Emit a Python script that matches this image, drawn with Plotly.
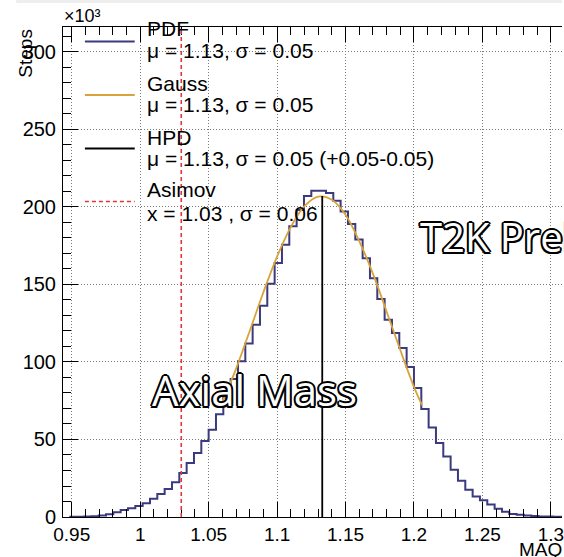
import plotly.graph_objects as go

# ---------------- data ----------------
BIN_WIDTH = 1.5 / 280          # histogram bin width (MAQ)
FIRST_BIN = 177                # index of first drawn bin
# steps per bin, in units of 10^3
COUNTS = [0.1, 0.2, 0.3, 0.5, 0.9, 1.7, 3.0, 4.5, 5.6, 7.1,
          8.8, 11.8, 14.8, 18.0, 22.4, 28.4, 34.8, 41.3, 49.0, 56.3,
          66.3, 77.0, 89.0, 100.4, 112.0, 124.0, 136.3, 150.5, 163.9, 175.7,
          187.5, 198.0, 207.0, 210.5, 210.5, 209.0, 204.0, 197.0, 189.0, 179.0,
          167.0, 154.0, 140.6, 127.3, 118.7, 109.0, 96.8, 83.2, 69.7, 57.8,
          47.7, 39.1, 30.5, 23.4, 17.6, 13.3, 10.8, 8.0, 5.3, 3.4,
          2.0, 1.4, 0.9, 0.6, 0.4, 0.3, 0.2, 0.1]

GAUSS_X = [1.059, 1.07, 1.08, 1.09, 1.10, 1.11, 1.12, 1.13, 1.14, 1.15,
           1.16, 1.17, 1.18, 1.19, 1.20, 1.206]
GAUSS_Y = [72.0, 95.6, 120.0, 145.0, 168.0, 187.0, 200.5, 206.7, 204.7, 195.0,
           178.0, 157.0, 132.6, 107.7, 84.0, 72.0]

HPD_X = 1.133
HPD_TOP = 207.0
ASIMOV_X = 1.03

X_TICKS = [0.95, 1.0, 1.05, 1.1, 1.15, 1.2, 1.25, 1.3]
Y_TICKS = [0, 50, 100, 150, 200, 250, 300]

LEGEND_NAMES = ["PDF", "Gauss", "HPD", "Asimov"]
LEGEND_STATS = ["μ = 1.13, σ = 0.05",
                "μ = 1.13, σ = 0.05",
                "μ = 1.13, σ = 0.05 (+0.05-0.05)",
                "x = 1.03 , σ = 0.06"]

# ---------------- layout geometry ----------------
W, H = 564, 557
ML, MR, MT, MB = 63, 0, 27, 40
X_RANGE = [0.9436, 1.30815]
Y_RANGE = [0, 316.1]

FONT = "Liberation Sans, Arial, Helvetica, sans-serif"
NAVY = "#3b3a7e"
GOLD = "#d9a33b"
RED = "#e0353a"
GRID = "#7a7a7a"

def px(x):   # pixel -> paper x
    return (x - ML) / (W - ML - MR)

def py(y):   # pixel -> paper y
    return (H - MB - y) / (H - MT - MB)

edges = [(FIRST_BIN + i) * BIN_WIDTH for i in range(len(COUNTS) + 1)]
steps_y = COUNTS + [COUNTS[-1]]

fig = go.Figure()
fig.add_trace(go.Scatter(x=edges, y=steps_y, mode="lines",
                         line=dict(color=NAVY, width=2, shape="hv"),
                         hoverinfo="skip", showlegend=False))
fig.add_trace(go.Scatter(x=GAUSS_X, y=GAUSS_Y, mode="lines",
                         line=dict(color=GOLD, width=1.8, shape="spline"),
                         hoverinfo="skip", showlegend=False))
fig.add_trace(go.Scatter(x=[HPD_X, HPD_X], y=[0, HPD_TOP], mode="lines",
                         line=dict(color="black", width=1.8),
                         hoverinfo="skip", showlegend=False))
fig.add_shape(type="line", xref="x", yref="paper", x0=ASIMOV_X, x1=ASIMOV_X,
              y0=0, y1=1, line=dict(color=RED, width=1.6, dash="4px,3px"))

# ---- legend (drawn manually, ROOT style) ----
leg_line_y = [41.5, 95, 148.5, 201.5]
leg_name_y = [28.5, 83, 137, 189.5]
leg_stat_y = [50.5, 104.5, 158, 213]
leg_styles = [dict(color=NAVY, width=2), dict(color=GOLD, width=2),
              dict(color="black", width=2), dict(color=RED, width=1.6, dash="4px,3px")]
for i in range(4):
    fig.add_shape(type="line", xref="paper", yref="paper",
                  x0=px(85), x1=px(135), y0=py(leg_line_y[i]), y1=py(leg_line_y[i]),
                  line=leg_styles[i])
    fig.add_annotation(xref="paper", yref="paper", x=px(145), y=py(leg_name_y[i]),
                       xanchor="left", yanchor="middle", text=LEGEND_NAMES[i],
                       showarrow=False, font=dict(family=FONT, size=21, color="black"))
    fig.add_annotation(xref="paper", yref="paper", x=px(145), y=py(leg_stat_y[i]),
                       xanchor="left", yanchor="middle", text=LEGEND_STATS[i],
                       showarrow=False, font=dict(family=FONT, size=21, color="black"))

# ---- outlined labels ----
outline = ("2px 0 0 #000, -2px 0 0 #000, 0 2px 0 #000, 0 -2px 0 #000, "
           "1.5px 1.5px 0 #000, -1.5px -1.5px 0 #000, 1.5px -1.5px 0 #000, -1.5px 1.5px 0 #000")
fig.add_annotation(xref="paper", yref="paper", x=px(150), y=py(389),
                   xanchor="left", yanchor="middle", text="Axial Mass", showarrow=False,
                   font=dict(family="Open Sans, sans-serif", size=42, color="white",
                             shadow=outline))
fig.add_annotation(xref="paper", yref="paper", x=px(419), y=py(236),
                   xanchor="left", yanchor="middle", text="T2K Preliminary", showarrow=False,
                   font=dict(family="Open Sans, sans-serif", size=40, color="white",
                             shadow=outline))

# ---- axis titles / exponent ----
fig.add_annotation(xref="paper", yref="paper", x=px(62), y=py(16),
                   xanchor="left", yanchor="middle", text="×10³", showarrow=False,
                   font=dict(family=FONT, size=18, color="black"))
fig.add_annotation(xref="paper", yref="paper", x=px(25), y=py(27),
                   xanchor="center", yanchor="top", text="Steps", textangle=-90,
                   showarrow=False, font=dict(family=FONT, size=19, color="black"))
fig.add_annotation(xref="paper", yref="paper", x=px(566), y=py(549),
                   xanchor="right", yanchor="middle", text="MAQ",
                   showarrow=False, font=dict(family=FONT, size=19, color="black"))

# top light-grey pad edge
fig.add_shape(type="rect", xref="paper", yref="paper", x0=px(16), x1=px(564),
              y0=py(0), y1=py(3), line=dict(width=0), fillcolor="#eeeeee", layer="below")

fig.update_layout(
    width=W, height=H,
    margin=dict(l=ML, r=MR, t=MT, b=MB, pad=0),
    paper_bgcolor="white", plot_bgcolor="white",
    showlegend=False,
    font=dict(family=FONT, size=19, color="black"),
    xaxis=dict(range=X_RANGE, tickvals=X_TICKS, ticktext=[f"{v:g}" for v in X_TICKS],
               showline=True, linecolor="black", linewidth=1, mirror="allticks",
               ticks="inside", ticklen=15, tickwidth=1, tickcolor="black",
               minor=dict(dtick=0.01, tick0=0.95, ticks="inside", ticklen=8,
                          tickcolor="black", showgrid=False),
               showgrid=True, gridcolor=GRID, griddash="1px,2px", gridwidth=1,
               zeroline=False, tickfont=dict(family=FONT, size=19, color="black"),
               ticklabeloverflow="allow"),
    yaxis=dict(range=Y_RANGE, tickvals=Y_TICKS, ticktext=[str(v) for v in Y_TICKS],
               showline=True, linecolor="black", linewidth=1, mirror=False,
               ticks="inside", ticklen=15, tickwidth=1, tickcolor="black",
               minor=dict(dtick=10, tick0=0, ticks="inside", ticklen=8,
                          tickcolor="black", showgrid=False),
               showgrid=True, gridcolor=GRID, griddash="1px,2px", gridwidth=1,
               zeroline=False, tickfont=dict(family=FONT, size=20, color="black"),
               ticklabelstandoff=2, ticklabeloverflow="allow"),
)

fig.write_html("out.html")
